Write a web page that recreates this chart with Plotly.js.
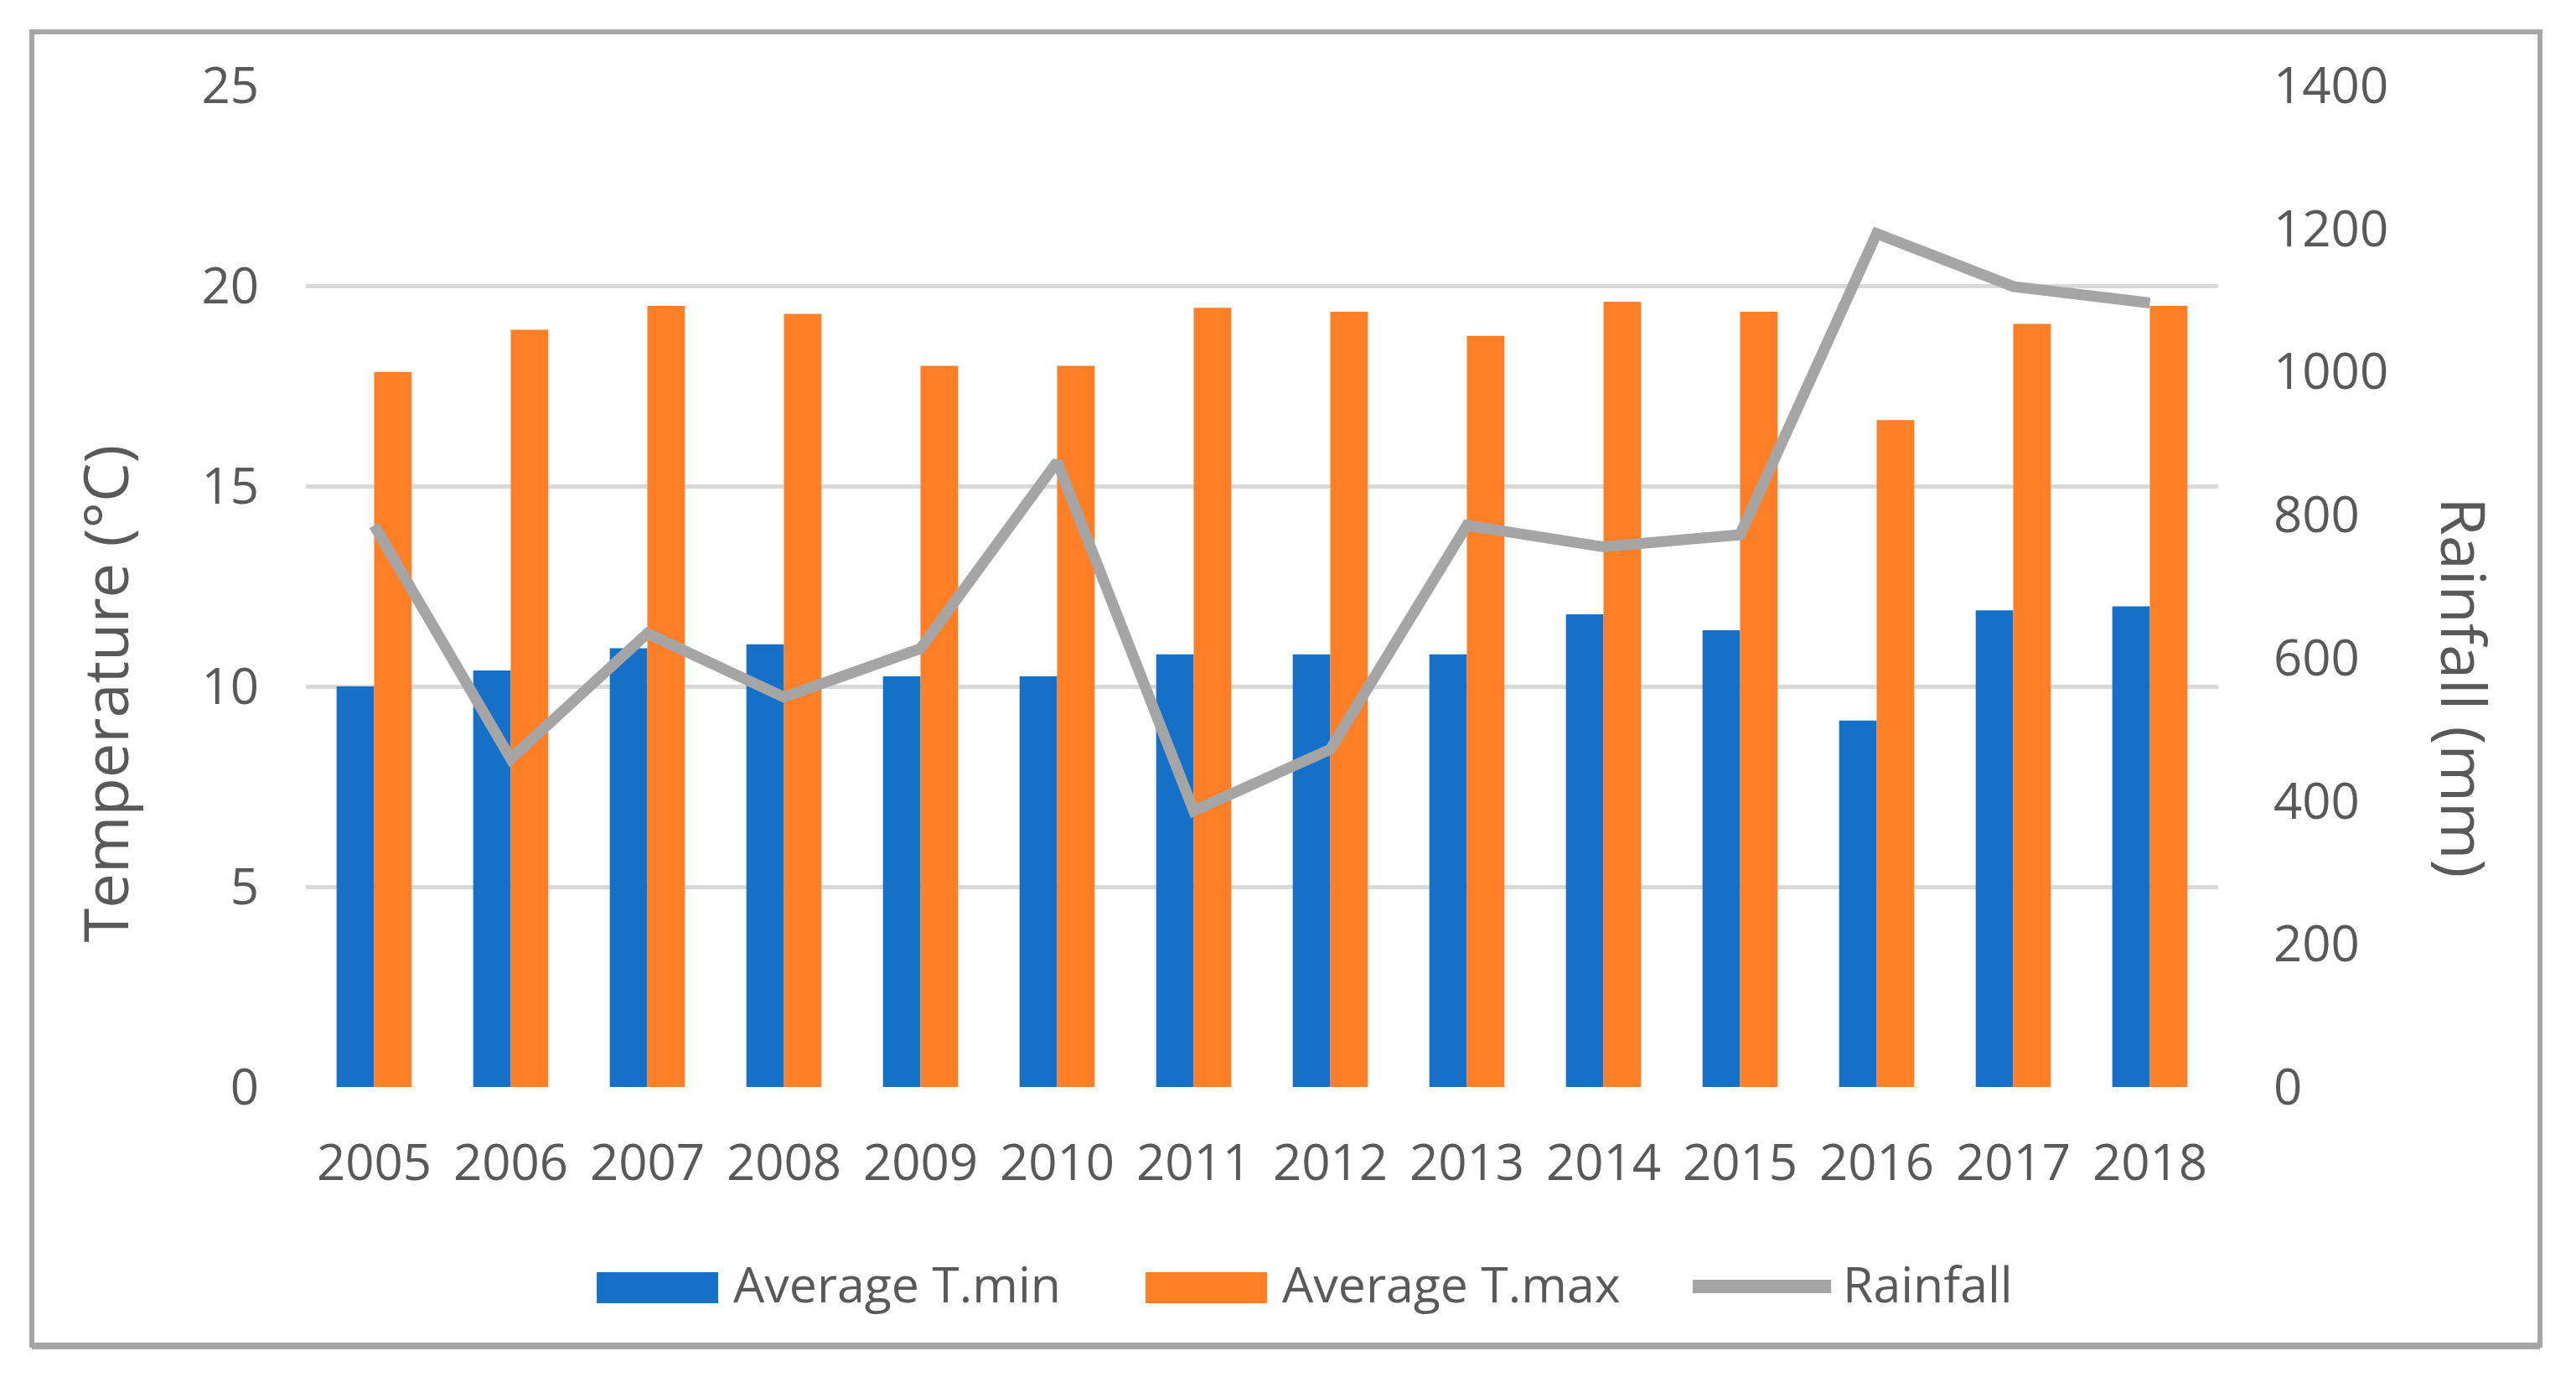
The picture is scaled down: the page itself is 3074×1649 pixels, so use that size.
<!DOCTYPE html>
<html>
<head>
<meta charset="utf-8">
<script src="https://cdn.plot.ly/plotly-3.0.1.min.js"></script>
<style>html,body{margin:0;padding:0;background:#fff;}#chart{width:3074px;height:1649px;}</style>
</head>
<body>
<div id="chart"></div>
<script>
const years = ['2005','2006','2007','2008','2009','2010','2011','2012','2013','2014','2015','2016','2017','2018'];
const tMin = [10.0, 10.4, 10.95, 11.05, 10.25, 10.25, 10.8, 10.8, 10.8, 11.8, 11.4, 9.15, 11.9, 12.0];
const tMax = [17.85, 18.9, 19.5, 19.3, 18.0, 18.0, 19.45, 19.35, 18.75, 19.6, 19.35, 16.65, 19.05, 19.5];
const rainfall = [785, 459, 634, 545, 613, 874, 386, 472, 785, 755, 772, 1193, 1119, 1096];
const seriesNames = ['Average T.min', 'Average T.max', 'Rainfall'];
const seriesColors = ['#1570C8', '#FF7F27', '#A5A5A5'];

const gray = '#595959';
const font = 'Open Sans, Noto Sans, sans-serif';

const traces = [
  {type:'bar', name:seriesNames[0], x:years, y:tMin, marker:{color:seriesColors[0]}, yaxis:'y', showlegend:false},
  {type:'bar', name:seriesNames[1], x:years, y:tMax, marker:{color:seriesColors[1]}, yaxis:'y', showlegend:false},
  {type:'scatter', mode:'lines', name:seriesNames[2], x:years, y:rainfall, yaxis:'y2', showlegend:false,
   line:{color:seriesColors[2], width:13}}
];

// legend drawn as paper-space swatches + text (Excel-style wide swatches)
const legLineY = -0.1992;
const legTextY = -0.1958;
const legend = {
  swatchX: [[0.1521, 0.2156], [0.4391, 0.5026], [0.7252, 0.7976]],
  textX: [0.2226, 0.5096, 0.8028]
};
const shapes = [
  {type:'rect', xref:'paper', yref:'paper', x0:-0.1433, x1:1.1683, y0:-0.2577, y1:1.0536,
   line:{color:'#A6A6A6', width:6}, fillcolor:'rgba(0,0,0,0)', layer:'below'},
  {type:'line', xref:'paper', yref:'paper', x0:-0.1433, x1:1.1683, y0:-0.2594, y1:-0.2594,
   line:{color:'#A6A6A6', width:6}, layer:'below'},
  {type:'rect', xref:'paper', yref:'paper', x0:legend.swatchX[0][0], x1:legend.swatchX[0][1], y0:-0.2159, y1:-0.1849,
   line:{width:0}, fillcolor:seriesColors[0]},
  {type:'rect', xref:'paper', yref:'paper', x0:legend.swatchX[1][0], x1:legend.swatchX[1][1], y0:-0.2159, y1:-0.1849,
   line:{width:0}, fillcolor:seriesColors[1]},
  {type:'line', xref:'paper', yref:'paper', x0:legend.swatchX[2][0], x1:legend.swatchX[2][1], y0:legLineY, y1:legLineY,
   line:{color:seriesColors[2], width:16}}
];
const annotations = [
  {text:'Temperature (°C)', xref:'paper', yref:'paper', x:-0.1056, y:0.393, textangle:-90,
   showarrow:false, font:{size:74, color:gray}, xanchor:'center', yanchor:'middle'},
  {text:'Rainfall (mm)', xref:'paper', yref:'paper', x:1.1293, y:0.399, textangle:90,
   showarrow:false, font:{size:74, color:gray}, xanchor:'center', yanchor:'middle'}
];
seriesNames.forEach((n, i) => annotations.push({
  text:n, xref:'paper', yref:'paper', x:legend.textX[i], y:legTextY, xanchor:'left', yanchor:'middle',
  showarrow:false, font:{size:59, color:gray}
}));

const layout = {
  width:3074, height:1649,
  paper_bgcolor:'#fff', plot_bgcolor:'#fff',
  margin:{l:365, r:427, t:102, b:352},
  font:{family:font, color:gray, size:60},
  barmode:'group', bargap:0.45, bargroupgap:0,
  showlegend:false,
  xaxis:{type:'category', showgrid:false, zeroline:false, showline:false,
    tickfont:{size:60, color:gray}, ticks:'', ticklabelstandoff:50},
  yaxis:{range:[0,25], dtick:5, showgrid:true, gridcolor:'#D9D9D9', gridwidth:5,
    zeroline:false, showline:false, tickfont:{size:60, color:gray}, ticks:'', ticklabelstandoff:55},
  yaxis2:{range:[0,1400], dtick:200, overlaying:'y', side:'right', showgrid:false,
    zeroline:false, showline:false, tickfont:{size:60, color:gray}, ticks:'', ticklabelstandoff:65},
  annotations:annotations,
  shapes:shapes
};

Plotly.newPlot('chart', traces, layout, {displayModeBar:false, staticPlot:true});
</script>
</body>
</html>
